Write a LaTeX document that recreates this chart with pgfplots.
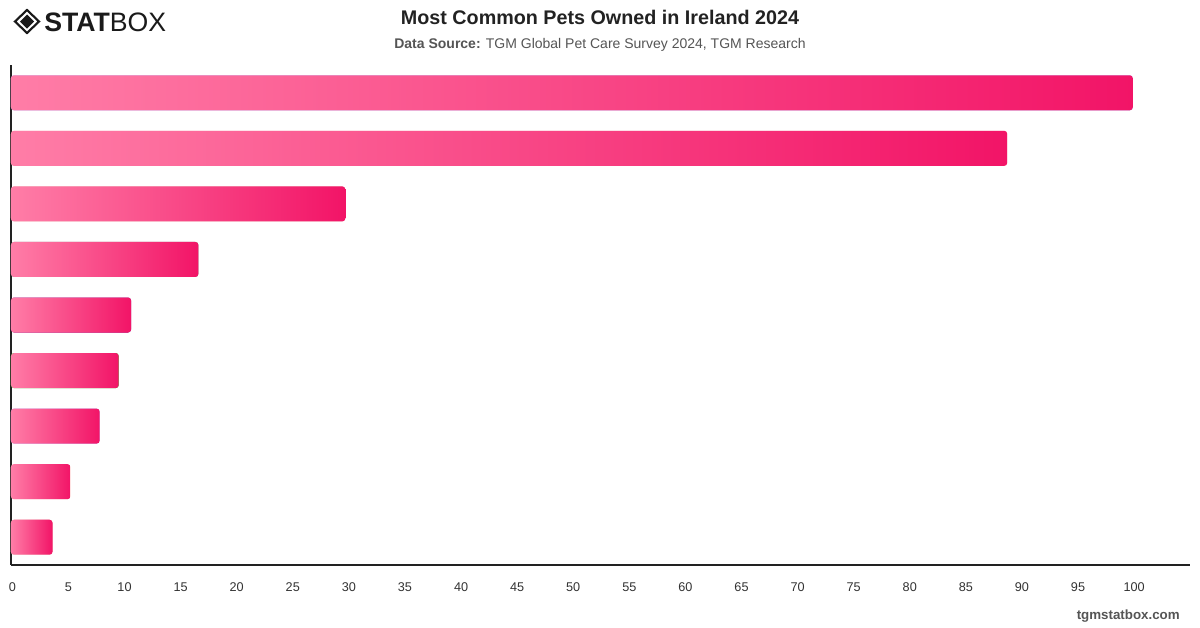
\documentclass[border=0pt]{standalone}
\usepackage{pgfplots}
\pgfplotsset{compat=1.18}
\usepackage{fontspec}
\setmainfont{Liberation Sans}

\definecolor{pinkL}{HTML}{FF7DA7}
\definecolor{pinkR}{HTML}{F21467}
\definecolor{axisc}{HTML}{222222}
\definecolor{tickc}{HTML}{333333}
\definecolor{titlec}{HTML}{222222}
\definecolor{subc}{HTML}{555555}
\definecolor{logoc}{HTML}{1A1A1A}

\begin{document}
\begin{tikzpicture}
% canvas: 1 px = 0.75pt, origin at the top left corner
\begin{scope}[x=0.75pt,y=-0.75pt]
\path[use as bounding box, fill=white] (0,0) rectangle (1200,628);

% logo
\draw[logoc, line width=1.6pt, line join=miter] (27,10) -- (39,21.5) -- (27,33) -- (15,21.5) -- cycle;
\fill[logoc] (27,14.5) -- (34,21.5) -- (27,28.5) -- (20,21.5) -- cycle;
\node[anchor=west, inner sep=0pt, text=logoc] at (44,22)
  {\fontsize{20}{20}\selectfont\bfseries STAT\mdseries BOX};

% title and source line
\node[text=titlec, inner sep=0pt] at (600,17)
  {\fontsize{14.8}{17}\selectfont\bfseries Most Common Pets Owned in Ireland 2024};
\node[text=subc, inner sep=0pt] at (600,44.5)
  {\fontsize{10.5}{12}\selectfont\textbf{Data Source:} TGM Global Pet Care Survey 2024, TGM Research};

% footer
\node[anchor=east, text=subc, inner sep=0pt] at (1180,616)
  {\fontsize{10}{12}\selectfont\bfseries tgmstatbox.com};
\end{scope}

\begin{axis}[
  at={(8.25pt,-423.75pt)}, anchor=south west,
  scale only axis, width=884.25pt, height=375pt,
  xmin=0, xmax=105.1, ymin=0.5, ymax=9.5, y dir=reverse,
  axis x line*=bottom, axis y line*=left,
  axis line style={draw=axisc, line width=1.1pt, -},
  xtick={0,5,...,100}, ytick=\empty,
  major tick length=0pt,
  /pgf/number format/assume math mode=true,
  xticklabel style={font=\fontsize{9.5}{11}\selectfont, text=tickc, anchor=center, yshift=-16.5pt, xshift=1pt},
  clip=false,
  xbar, bar width=26.25pt, bar shift=0pt,
  every axis plot/.append style={draw=none, left color=pinkL, right color=pinkR, rounded corners=2.2pt},
]
\addplot coordinates {(100,1)};
\addplot coordinates {(88.8,2)};
\addplot coordinates {(29.8,3)};
\addplot coordinates {(16.7,4)};
\addplot coordinates {(10.7,5)};
\addplot coordinates {(9.6,6)};
\addplot coordinates {(7.9,7)};
\addplot coordinates {(5.3,8)};
\addplot coordinates {(3.7,9)};
\end{axis}
\end{tikzpicture}
\end{document}
